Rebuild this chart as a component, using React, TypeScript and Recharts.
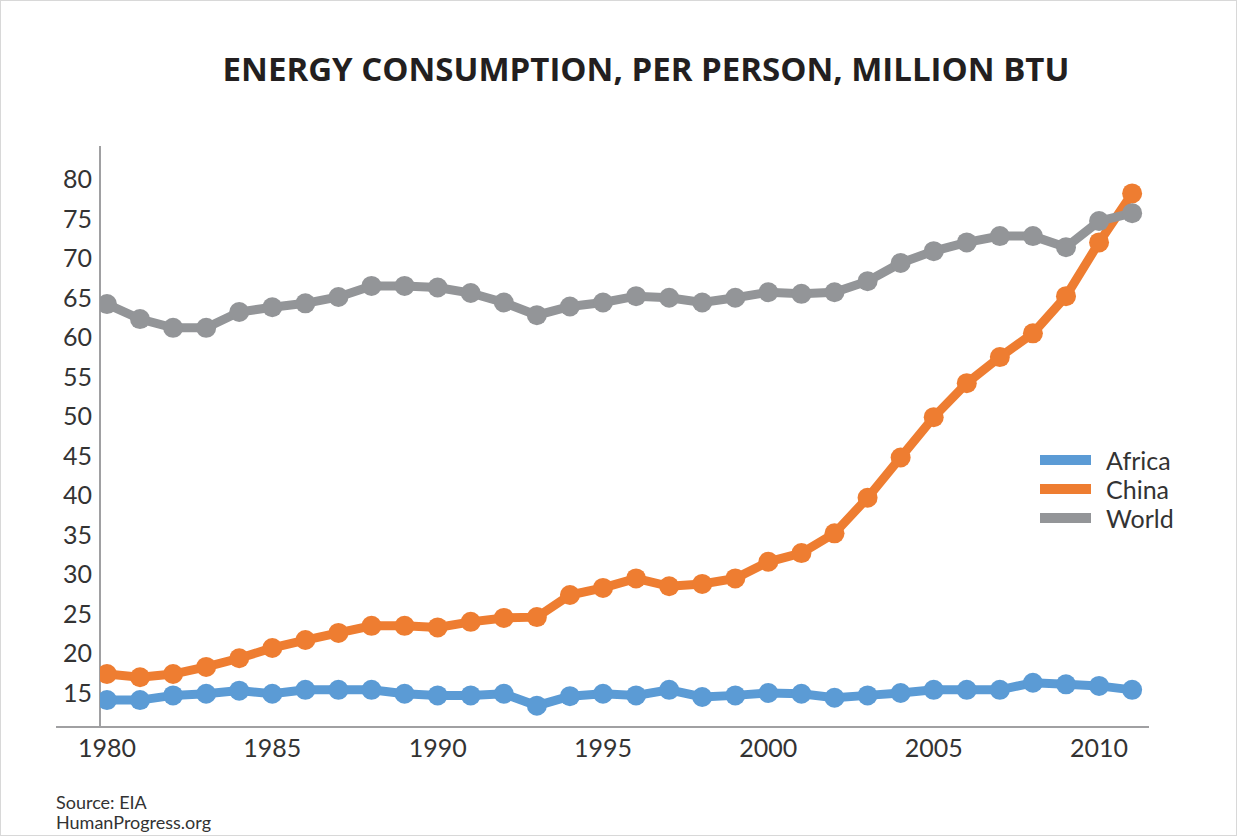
import { LineChart, Line, XAxis, YAxis, ReferenceLine } from "recharts";

const years = [
  1980, 1981, 1982, 1983, 1984, 1985, 1986, 1987, 1988, 1989, 1990, 1991, 1992, 1993, 1994, 1995,
  1996, 1997, 1998, 1999, 2000, 2001, 2002, 2003, 2004, 2005, 2006, 2007, 2008, 2009, 2010, 2011,
];
const africa = [
  14.1, 14.1, 14.7, 14.9, 15.3, 14.9, 15.4, 15.4, 15.4, 14.9, 14.7, 14.7, 14.9, 13.4, 14.6, 14.9,
  14.7, 15.4, 14.5, 14.7, 15.0, 14.9, 14.4, 14.7, 15.0, 15.4, 15.4, 15.4, 16.3, 16.1, 15.9, 15.4,
];
const china = [
  17.4, 17.0, 17.4, 18.3, 19.4, 20.7, 21.7, 22.6, 23.5, 23.5, 23.3, 24.0, 24.5, 24.6, 27.4, 28.3,
  29.5, 28.5, 28.8, 29.5, 31.6, 32.7, 35.2, 39.7, 44.8, 49.9, 54.2, 57.5, 60.5, 65.2, 72.0, 78.2,
];
const world = [
  64.2, 62.3, 61.2, 61.2, 63.2, 63.8, 64.3, 65.1, 66.5, 66.5, 66.3, 65.6, 64.4, 62.8, 63.9, 64.4,
  65.2, 65.0, 64.4, 65.0, 65.7, 65.5, 65.7, 67.1, 69.4, 70.9, 72.0, 72.8, 72.8, 71.4, 74.7, 75.7,
];
const xTicks = [1980, 1985, 1990, 1995, 2000, 2005, 2010];
const yTicks = [15, 20, 25, 30, 35, 40, 45, 50, 55, 60, 65, 70, 75, 80];

const data = years.map((year, i) => ({
  year,
  Africa: africa[i],
  China: china[i],
  World: world[i],
}));

const SERIES = [
  { key: "Africa", color: "#5b9bd5" },
  { key: "China", color: "#ee7d31" },
  { key: "World", color: "#939598" },
];

const FONT = "Lato, 'Open Sans', sans-serif";
const AXIS = "#a0a0a2";

export default function App() {
  return (
    <div
      style={{
        position: "absolute",
        left: 0,
        top: 0,
        width: 1237,
        height: 836,
        background: "#fff",
        boxSizing: "border-box",
        border: "1px solid #d8d8d8",
        fontFamily: FONT,
      }}
    >
      <div
        style={{
          position: "absolute",
          top: 45,
          left: 0,
          width: 1290,
          textAlign: "center",
          fontFamily: "'Open Sans', sans-serif",
          fontWeight: 700,
          fontSize: 33,
          color: "#231f20",
        }}
      >
        ENERGY CONSUMPTION, PER PERSON, MILLION BTU
      </div>
      <div style={{ position: "absolute", left: 0, top: 0 }}>
        <LineChart width={1237} height={836} data={data} margin={{ top: 145, right: 89, bottom: 70, left: 49 }}>
          <XAxis
            dataKey="year"
            type="number"
            domain={[1979.79, 2011.51]}
            allowDataOverflow
            ticks={xTicks}
            tickLine={false}
            tickSize={0}
            tickMargin={12}
            height={40}
            axisLine={{ stroke: AXIS, strokeWidth: 2 }}
            tick={{ fill: "#333", fontSize: 25, fontFamily: FONT }}
          />
          <YAxis
            type="number"
            domain={[10.7, 84.2]}
            allowDataOverflow
            ticks={yTicks}
            width={50}
            tickLine={false}
            tickSize={0}
            tickMargin={8}
            axisLine={{ stroke: AXIS, strokeWidth: 2 }}
            tick={{ fill: "#333", fontSize: 25, fontFamily: FONT }}
          />
          <ReferenceLine
            segment={[
              { x: 1978.46, y: 10.7 },
              { x: 1979.79, y: 10.7 },
            ]}
            stroke={AXIS}
            strokeWidth={2}
            ifOverflow="visible"
          />
          {SERIES.map((s) => (
            <Line
              key={s.key}
              type="linear"
              dataKey={s.key}
              stroke={s.color}
              strokeWidth={9}
              dot={{ r: 10, fill: s.color, stroke: "none" }}
              activeDot={false}
              isAnimationActive={false}
            />
          ))}
        </LineChart>
      </div>
      <div style={{ position: "absolute", left: 1039, top: 444 }}>
        {SERIES.map((s) => (
          <div key={s.key} style={{ display: "flex", alignItems: "center", height: 29 }}>
            <div style={{ width: 51, height: 10, background: s.color, marginRight: 15 }} />
            <span style={{ fontSize: 25, color: "#333" }}>{s.key}</span>
          </div>
        ))}
      </div>
      <div style={{ position: "absolute", left: 55, top: 791, fontSize: 18, lineHeight: "20px", color: "#333" }}>
        Source: EIA
        <br />
        HumanProgress.org
      </div>
    </div>
  );
}
